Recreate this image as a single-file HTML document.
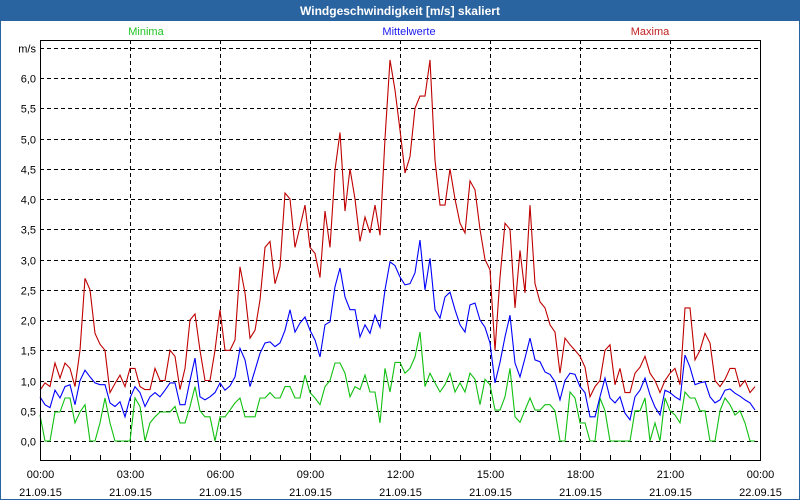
<!DOCTYPE html>
<html><head><meta charset="utf-8"><style>
html,body{margin:0;padding:0;background:#fff;}
body{width:800px;height:500px;overflow:hidden;font-family:"Liberation Sans","DejaVu Sans",sans-serif;}
</style></head><body>
<svg width="800" height="500" xmlns="http://www.w3.org/2000/svg" style="display:block">
<rect x="0" y="0" width="800" height="500" fill="#2a64a0"/>
<rect x="1" y="21" width="798" height="478" fill="#ffffff"/>
<text x="400" y="15" text-anchor="middle" font-size="12" font-weight="bold" fill="#ffffff">Windgeschwindigkeit [m/s] skaliert</text>
<text x="146" y="35" text-anchor="middle" font-size="11" fill="#22c422">Minima</text>
<text x="409" y="35" text-anchor="middle" font-size="11" fill="#1a1aee">Mittelwerte</text>
<text x="650" y="35" text-anchor="middle" font-size="11" fill="#c02020">Maxima</text>
<g id="grid"></g>
<g id="series"></g>
<rect x="40.5" y="40.5" width="720" height="420" fill="none" stroke="#000" stroke-width="1"/>
<g id="axes"></g>
</svg>
<script>
const yTicks = [0,0.5,1,1.5,2,2.5,3,3.5,4,4.5,5,5.5,6];
const yTickLabels = ["0,0","0,5","1,0","1,5","2,0","2,5","3,0","3,5","4,0","4,5","5,0","5,5","6,0"];
const xTickHours = [0,3,6,9,12,15,18,21,24];
const xTickTimes = ["00:00","03:00","06:00","09:00","12:00","15:00","18:00","21:00","00:00"];
const xTickDates = ["21.09.15","21.09.15","21.09.15","21.09.15","21.09.15","21.09.15","21.09.15","21.09.15","22.09.15"];
const stepMinutes = 10;
const maxima = [0.84,0.96,0.9,1.29,1.04,1.29,1.2,0.9,1.5,2.69,2.5,1.78,1.6,1.5,0.8,0.95,1.09,0.9,1.2,1.2,0.9,0.85,0.85,1.2,1.0,1.0,1.5,1.4,0.85,1.2,2.0,2.1,1.5,1.0,1.0,1.5,
2.17,1.5,1.5,1.67,2.88,2.45,1.7,1.83,2.33,3.2,3.3,2.6,2.88,4.1,4.0,3.2,3.54,3.9,3.2,3.1,2.7,3.8,3.2,4.48,5.1,3.8,4.5,4.0,3.3,3.7,
3.44,3.9,3.4,5.0,6.3,5.8,5.14,4.43,4.7,5.5,5.7,5.7,6.3,4.64,3.9,3.9,4.5,4.0,3.6,3.44,4.3,4.15,3.5,3.0,2.83,1.5,2.7,3.6,3.5,2.2,3.15,2.45,3.9,2.6,
2.3,2.2,1.92,1.8,1.12,1.7,1.59,1.5,1.4,1.22,0.73,0.9,1.0,1.5,1.59,0.93,1.2,0.8,0.8,1.12,1.22,1.4,1.12,1.0,0.8,1.0,1.12,1.2,0.93,2.2,2.2,1.34,1.5,1.78,1.62,1.0,0.9,1.02,1.2,1.2,0.9,1.0,0.8,0.9];
const mittel = [0.73,0.6,0.55,0.84,0.71,0.9,0.93,0.6,1.0,1.17,1.06,0.96,0.93,0.93,0.63,0.57,0.65,0.4,0.71,0.9,0.8,0.57,0.73,0.8,0.73,0.84,0.96,0.96,0.6,0.6,1.0,1.37,0.73,0.68,0.73,0.8,
0.96,0.84,0.91,1.06,1.53,1.34,0.9,1.17,1.45,1.62,1.64,1.56,1.62,1.83,2.17,1.8,1.95,2.05,1.83,1.67,1.39,1.92,1.97,2.55,2.86,2.38,2.17,2.17,1.72,1.92,
1.78,2.08,1.88,2.5,2.96,2.9,2.71,2.58,2.6,2.78,3.32,2.5,3.02,2.17,2.03,2.38,2.46,2.17,1.92,1.8,2.25,2.28,2.0,1.88,1.62,0.96,1.3,1.72,2.08,1.29,1.06,1.37,1.7,1.34,
1.31,1.14,1.1,0.98,0.68,1.0,1.12,1.1,0.9,0.8,0.4,0.4,0.73,1.04,0.71,0.63,0.73,0.46,0.35,0.73,0.84,1.04,0.76,0.56,0.43,0.84,0.8,0.73,0.68,1.42,1.22,0.93,0.96,0.98,0.73,0.63,0.68,0.84,0.86,0.79,0.74,0.68,0.63,0.51];
const minima = [0.43,0,0,0.48,0.48,0.71,0.71,0.3,0.48,0.6,0,0,0.3,0.71,0.3,0,0,0,0,0.71,0.57,0,0.3,0.4,0.48,0.48,0.48,0.57,0.3,0.3,0.57,0.9,0.5,0.4,0.4,0,
0.4,0.4,0.51,0.63,0.71,0.4,0.4,0.4,0.71,0.71,0.8,0.71,0.71,0.9,0.9,0.71,0.71,1.09,0.8,0.71,0.6,0.9,1.0,1.29,1.29,1.12,0.73,0.9,0.85,1.09,
0.81,0.81,0.3,1.2,0.81,1.3,1.3,1.12,1.2,1.39,1.8,0.9,1.12,0.96,0.81,0.93,1.12,0.81,0.96,0.81,1.12,1.02,0.6,1.02,0.93,0.51,0.51,0.73,1.2,0.4,0.31,0.51,0.71,0.51,
0.51,0.6,0.6,0.5,0,0,0.81,0.71,0.3,0.3,0,0,0.71,0.5,0,0,0,0,0,0.5,0.5,0.71,0,0.3,0,0.71,0.5,0.43,0.3,0.81,0.71,0.71,0.5,0.5,0,0,0.5,0.71,0.6,0.43,0.5,0.3,0,0];

const NS = "http://www.w3.org/2000/svg";
const X0 = 40, PXH = 30, Y0 = 441, PXU = 60.5;
function xOfHour(h){ return X0 + h*PXH; }
function yOf(v){ return Y0 - v*PXU; }
function mk(tag, attrs, parent){ const e=document.createElementNS(NS,tag); for(const k in attrs) e.setAttribute(k,attrs[k]); parent.appendChild(e); return e; }
const grid=document.getElementById('grid'), axes=document.getElementById('axes'), series=document.getElementById('series');

yTicks.forEach((v,i)=>{
  const y=Math.round(yOf(v))+0.5;
  const l=mk('line',{x1:40,x2:760,y1:y,y2:y,stroke:'#000','stroke-dasharray':'4,3'},grid);
  
  
  const t=mk('text',{x:36,y:y+4,'text-anchor':'end','font-size':11,fill:'#000'},axes);
  t.textContent=yTickLabels[i];
  
  
});
{ const y=Math.round(yOf(6.5))+0.5;
  const l=mk('line',{x1:40,x2:760,y1:y,y2:y,stroke:'#000','stroke-dasharray':'4,3'},grid);
  
  
  const t=mk('text',{x:36,y:y+4,'text-anchor':'end','font-size':11,fill:'#000'},axes);
  t.textContent='m/s';
  
   }
for(let h=1;h<24;h++){
  const x=xOfHour(h)+0.5;
  const tk=mk('line',{x1:x,x2:x,y1:455,y2:460,stroke:'#000'},axes);
  
  
}
xTickHours.forEach((h,i)=>{
  const x=xOfHour(h)+0.5;
  if(h>0&&h<24){
    const l=mk('line',{x1:x,x2:x,y1:40,y2:460,stroke:'#000','stroke-dasharray':'4,3'},grid);
    
    
  }
  const t=mk('text',{x:x,y:478,'text-anchor':'middle','font-size':11,fill:'#000'},axes);
  t.textContent=xTickTimes[i];
  
  
  const d=mk('text',{x:x,y:496,'text-anchor':'middle','font-size':11,fill:'#000'},axes);
  d.textContent=xTickDates[i];
  
  
});
function drawLine(arr,color,name){
  const pts=arr.map((v,i)=>xOfHour(i*stepMinutes/60).toFixed(1)+','+yOf(v).toFixed(1)).join(' ');
  const p=mk('polyline',{points:pts,fill:'none',stroke:color,'stroke-width':1.1,'stroke-linejoin':'miter'},series);
  
  
}
drawLine(minima,'#10c010','line-minima');
drawLine(mittel,'#0000ff','line-mittelwerte');
drawLine(maxima,'#c00000','line-maxima');
</script>
</body></html>
